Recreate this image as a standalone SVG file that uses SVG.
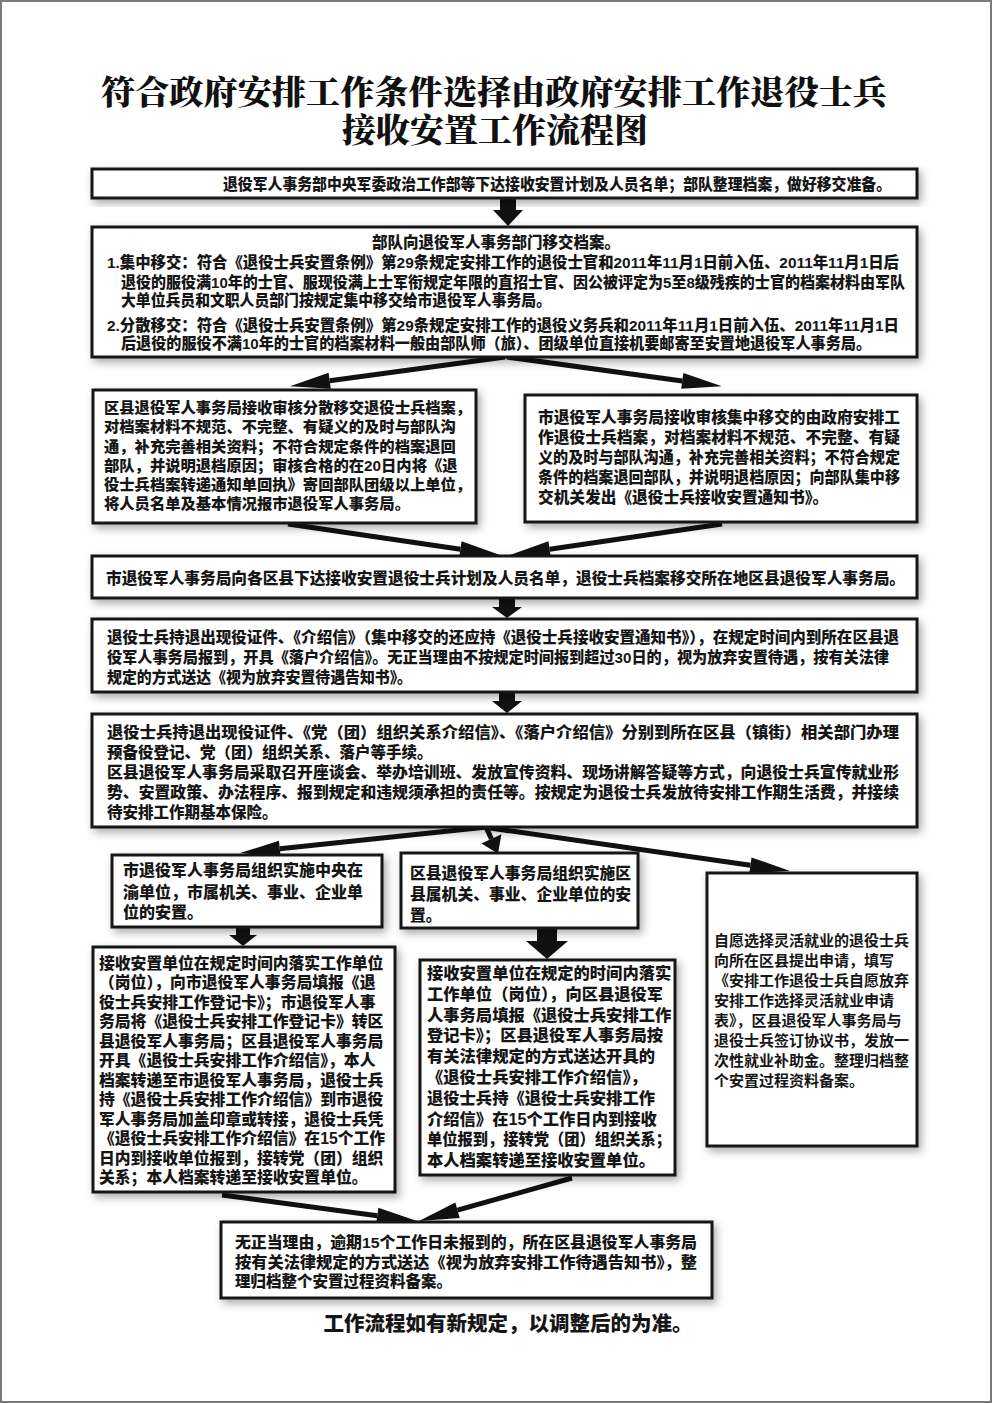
<svg xmlns="http://www.w3.org/2000/svg" width="992" height="1403" viewBox="0 0 992 1403">
<style>
.bx{fill:#fff;stroke:#161616;stroke-width:3;filter:url(#sh)}
.t{font-family:"Liberation Sans","Noto Sans CJK SC",sans-serif;font-weight:900;font-size:15.5px;fill:#161616;dominant-baseline:central}
.m{font-weight:700}
.ttl{font-family:"Noto Serif CJK SC","Liberation Serif","Noto Sans CJK SC",serif;font-weight:900;font-size:33px;fill:#111;dominant-baseline:central;text-anchor:middle}
.ln{fill:none;stroke:#111;stroke-width:5;stroke-linecap:butt}
.blk{fill:#111}
</style>
<defs>
<filter id="sh" x="-10%" y="-10%" width="130%" height="140%">
<feDropShadow dx="3" dy="4" stdDeviation="4" flood-color="#000" flood-opacity="0.33"/>
</filter>
<marker id="ah" markerUnits="userSpaceOnUse" markerWidth="42" markerHeight="16" viewBox="0 0 42 16" refX="0" refY="8" orient="auto" overflow="visible">
<path d="M0,0 L40,8 L0,16 Z" fill="#111"/>
</marker>
<marker id="ahs" markerUnits="userSpaceOnUse" markerWidth="18" markerHeight="22" viewBox="0 0 18 22" refX="0" refY="11" orient="auto" overflow="visible">
<path d="M0,0 L16,11 L0,22 Z" fill="#111"/>
</marker>
</defs>
<rect x="1" y="1" width="990" height="1401" fill="#fff" stroke="#7a7a7a" stroke-width="2"/>

<g id="title">
<text class="ttl"><tspan x="494" y="89" textLength="786" lengthAdjust="spacingAndGlyphs">符合政府安排工作条件选择由政府安排工作退役士兵</tspan><tspan x="495" y="127" textLength="306" lengthAdjust="spacingAndGlyphs">接收安置工作流程图</tspan></text>
</g>

<g id="connectors">
<polygon class="blk" points="500,199 516,199 516,210 523,210 508,226 493,210 500,210"/>
<path class="ln" d="M505,357 L329.7,380.8" marker-end="url(#ah)"/>
<path class="ln" d="M507,357 L682.3,380.9" marker-end="url(#ah)"/>
<path class="ln" d="M288,524 L460.4,549.2" marker-end="url(#ah)"/>
<path class="ln" d="M722,524 L549.6,549.2" marker-end="url(#ah)"/>
<polygon class="blk" points="499,599 515,599 515,607 522,607 507,618 492,607 499,607"/>
<polygon class="blk" points="499,693 515,693 515,701 522,701 507,713 492,701 499,701"/>
<path class="ln" d="M487,827 L279.8,848.8" marker-end="url(#ah)"/>
<path class="ln" d="M486,827 L491.4,838.9" marker-end="url(#ahs)"/>
<path class="ln" d="M490,828 L750.4,865.3" marker-end="url(#ah)"/>
<polygon class="blk" points="236,928 250,928 250,935 257,935 243,946 229,935 236,935"/>
<polygon class="blk" points="537,929 557,929 557,941 568,941 547,959 526,941 537,941"/>
<path class="ln" d="M222,1195 L377.3,1215.7" marker-end="url(#ah)"/>
<path class="ln" d="M572,1178 L457.5,1210.2" marker-end="url(#ah)"/>
</g>

<g id="n1">
<rect class="bx" x="92" y="169" width="825" height="29"/>
<text class="t" x="223" y="184" textLength="668" lengthAdjust="spacingAndGlyphs">退役军人事务部中央军委政治工作部等下达接收安置计划及人员名单；部队整理档案，做好移交准备。</text>
</g>

<g id="n2">
<rect class="bx" x="92" y="227" width="825" height="130"/>
<text class="t" x="496" y="242" text-anchor="middle">部队向退役军人事务部门移交档案。</text>
<text class="t" x="107" y="262" textLength="792" lengthAdjust="spacingAndGlyphs">1.集中移交：符合《退役士兵安置条例》第29条规定安排工作的退役士官和2011年11月1日前入伍、2011年11月1日后</text>
<text class="t" x="121" y="282" textLength="784" lengthAdjust="spacingAndGlyphs">退役的服役满10年的士官、服现役满上士军衔规定年限的直招士官、因公被评定为5至8级残疾的士官的档案材料由军队</text>
<text class="t" x="121" y="300" textLength="430" lengthAdjust="spacingAndGlyphs">大单位兵员和文职人员部门按规定集中移交给市退役军人事务局。</text>
<text class="t" x="107" y="325" textLength="792" lengthAdjust="spacingAndGlyphs">2.分散移交：符合《退役士兵安置条例》第29条规定安排工作的退役义务兵和2011年11月1日前入伍、2011年11月1日</text>
<text class="t" x="121" y="343" textLength="750" lengthAdjust="spacingAndGlyphs">后退役的服役不满10年的士官的档案材料一般由部队师（旅）、团级单位直接机要邮寄至安置地退役军人事务局。</text>
</g>

<g id="n3l">
<rect class="bx" x="93" y="390" width="383" height="133"/>
<text class="t" x="104" y="407" style="font-size:15.3px">区县退役军人事务局接收审核分散移交退役士兵档案，</text>
<text class="t" x="104" y="426" style="font-size:15.3px">对档案材料不规范、不完整、有疑义的及时与部队沟</text>
<text class="t" x="104" y="446" style="font-size:15.3px">通，补充完善相关资料；不符合规定条件的档案退回</text>
<text class="t" x="104" y="465" style="font-size:15.3px">部队，并说明退档原因；审核合格的在20日内将《退</text>
<text class="t" x="104" y="484" style="font-size:15.3px">役士兵档案转递通知单回执》寄回部队团级以上单位，</text>
<text class="t" x="104" y="503" style="font-size:15.3px">将人员名单及基本情况报市退役军人事务局。</text>
</g>

<g id="n3r">
<rect class="bx" x="525" y="395" width="392" height="127"/>
<text class="t" x="538" y="417" style="font-size:15.7px" textLength="362" lengthAdjust="spacingAndGlyphs">市退役军人事务局接收审核集中移交的由政府安排工</text>
<text class="t" x="538" y="437" style="font-size:15.7px" textLength="362" lengthAdjust="spacingAndGlyphs">作退役士兵档案，对档案材料不规范、不完整、有疑</text>
<text class="t" x="538" y="457" style="font-size:15.7px" textLength="362" lengthAdjust="spacingAndGlyphs">义的及时与部队沟通，补充完善相关资料；不符合规定</text>
<text class="t" x="538" y="477" style="font-size:15.7px" textLength="362" lengthAdjust="spacingAndGlyphs">条件的档案退回部队，并说明退档原因；向部队集中移</text>
<text class="t" x="538" y="497" style="font-size:15.7px">交机关发出《退役士兵接收安置通知书》。</text>
</g>

<g id="n4">
<rect class="bx" x="92" y="556" width="825" height="42"/>
<text class="t" x="106" y="578" textLength="799" lengthAdjust="spacingAndGlyphs">市退役军人事务局向各区县下达接收安置退役士兵计划及人员名单，退役士兵档案移交所在地区县退役军人事务局。</text>
</g>

<g id="n5">
<rect class="bx" x="92" y="619" width="825" height="73"/>
<text class="t" x="107" y="637" textLength="792" lengthAdjust="spacingAndGlyphs">退役士兵持退出现役证件、《介绍信》（集中移交的还应持《退役士兵接收安置通知书》），在规定时间内到所在区县退</text>
<text class="t" x="107" y="657" textLength="782" lengthAdjust="spacingAndGlyphs">役军人事务局报到，开具《落户介绍信》。无正当理由不按规定时间报到超过30日的，视为放弃安置待遇，按有关法律</text>
<text class="t" x="107" y="677" textLength="305" lengthAdjust="spacingAndGlyphs">规定的方式送达《视为放弃安置待遇告知书》。</text>
</g>

<g id="n6">
<rect class="bx" x="92" y="714" width="825" height="113"/>
<text class="t" x="107" y="732" textLength="792" lengthAdjust="spacingAndGlyphs">退役士兵持退出现役证件、《党（团）组织关系介绍信》、《落户介绍信》分别到所在区县（镇街）相关部门办理</text>
<text class="t" x="107" y="752">预备役登记、党（团）组织关系、落户等手续。</text>
<text class="t" x="107" y="772" textLength="792" lengthAdjust="spacingAndGlyphs">区县退役军人事务局采取召开座谈会、举办培训班、发放宣传资料、现场讲解答疑等方式，向退役士兵宣传就业形</text>
<text class="t" x="107" y="792" textLength="792" lengthAdjust="spacingAndGlyphs">势、安置政策、办法程序、报到规定和违规须承担的责任等。按规定为退役士兵发放待安排工作期生活费，并接续</text>
<text class="t" x="107" y="812">待安排工作期基本保险。</text>
</g>

<g id="nA">
<rect class="bx" x="112" y="855" width="270" height="72"/>
<text class="t" x="123" y="870" style="font-size:16px">市退役军人事务局组织实施中央在</text>
<text class="t" x="123" y="892" style="font-size:16px">渝单位，市属机关、事业、企业单</text>
<text class="t" x="123" y="912" style="font-size:16px">位的安置。</text>
</g>

<g id="nB">
<rect class="bx" x="401" y="853" width="237" height="75"/>
<text class="t" x="410" y="873" style="font-size:15.8px">区县退役军人事务局组织实施区</text>
<text class="t" x="410" y="894" style="font-size:15.8px">县属机关、事业、企业单位的安</text>
<text class="t" x="410" y="915" style="font-size:15.8px">置。</text>
</g>

<g id="nC">
<rect class="bx" x="707" y="873" width="210" height="273"/>
<text class="t m" x="714" y="940" style="font-size:15px">自愿选择灵活就业的退役士兵</text>
<text class="t m" x="714" y="960" style="font-size:15px">向所在区县提出申请，填写</text>
<text class="t m" x="714" y="980" style="font-size:15px">《安排工作退役士兵自愿放弃</text>
<text class="t m" x="714" y="1000" style="font-size:15px">安排工作选择灵活就业申请</text>
<text class="t m" x="714" y="1020" style="font-size:15px">表》，区县退役军人事务局与</text>
<text class="t m" x="714" y="1040" style="font-size:15px">退役士兵签订协议书，发放一</text>
<text class="t m" x="714" y="1060" style="font-size:15px">次性就业补助金。整理归档整</text>
<text class="t m" x="714" y="1080" style="font-size:15px">个安置过程资料备案。</text>
</g>

<g id="nD">
<rect class="bx" x="93" y="947" width="302" height="245"/>
<text class="t" x="99" y="963" style="font-size:15.8px">接收安置单位在规定时间内落实工作单位</text>
<text class="t" x="99" y="982.5" style="font-size:15.8px">（岗位），向市退役军人事务局填报《退</text>
<text class="t" x="99" y="1002" style="font-size:15.8px">役士兵安排工作登记卡》；市退役军人事</text>
<text class="t" x="99" y="1021.5" style="font-size:15.8px">务局将《退役士兵安排工作登记卡》转区</text>
<text class="t" x="99" y="1041" style="font-size:15.8px">县退役军人事务局；区县退役军人事务局</text>
<text class="t" x="99" y="1060.5" style="font-size:15.8px">开具《退役士兵安排工作介绍信》，本人</text>
<text class="t" x="99" y="1080" style="font-size:15.8px">档案转递至市退役军人事务局，退役士兵</text>
<text class="t" x="99" y="1099.5" style="font-size:15.8px">持《退役士兵安排工作介绍信》到市退役</text>
<text class="t" x="99" y="1119" style="font-size:15.8px">军人事务局加盖印章或转接，退役士兵凭</text>
<text class="t" x="99" y="1138.5" style="font-size:15.8px">《退役士兵安排工作介绍信》在15个工作</text>
<text class="t" x="99" y="1158" style="font-size:15.8px">日内到接收单位报到，接转党（团）组织</text>
<text class="t" x="99" y="1177.5" style="font-size:15.8px">关系；本人档案转递至接收安置单位。</text>
</g>

<g id="nE">
<rect class="bx" x="420" y="960" width="255" height="215"/>
<text class="t" x="427" y="973" style="font-size:16.3px">接收安置单位在规定的时间内落实</text>
<text class="t" x="427" y="993.8" style="font-size:16.3px">工作单位（岗位），向区县退役军</text>
<text class="t" x="427" y="1014.6" style="font-size:16.3px">人事务局填报《退役士兵安排工作</text>
<text class="t" x="427" y="1035.4" style="font-size:16.3px">登记卡》；区县退役军人事务局按</text>
<text class="t" x="427" y="1056.2" style="font-size:16.3px">有关法律规定的方式送达开具的</text>
<text class="t" x="427" y="1077" style="font-size:16.3px">《退役士兵安排工作介绍信》，</text>
<text class="t" x="427" y="1097.8" style="font-size:16.3px">退役士兵持《退役士兵安排工作</text>
<text class="t" x="427" y="1118.6" style="font-size:16.3px">介绍信》在15个工作日内到接收</text>
<text class="t" x="427" y="1139.4" style="font-size:16.3px" textLength="244" lengthAdjust="spacingAndGlyphs">单位报到，接转党（团）组织关系；</text>
<text class="t" x="427" y="1160.2" style="font-size:16.3px">本人档案转递至接收安置单位。</text>
</g>

<g id="nF">
<rect class="bx" x="221" y="1222" width="491" height="76"/>
<text class="t" x="235" y="1242" textLength="462" lengthAdjust="spacingAndGlyphs">无正当理由，逾期15个工作日未报到的，所在区县退役军人事务局</text>
<text class="t" x="235" y="1262" textLength="462" lengthAdjust="spacingAndGlyphs">按有关法律规定的方式送达《视为放弃安排工作待遇告知书》，整</text>
<text class="t" x="235" y="1281">理归档整个安置过程资料备案。</text>
</g>

<g id="footer">
<text class="t" x="508" y="1323" text-anchor="middle" style="font-size:20.5px">工作流程如有新规定，以调整后的为准。</text>
</g>
</svg>
